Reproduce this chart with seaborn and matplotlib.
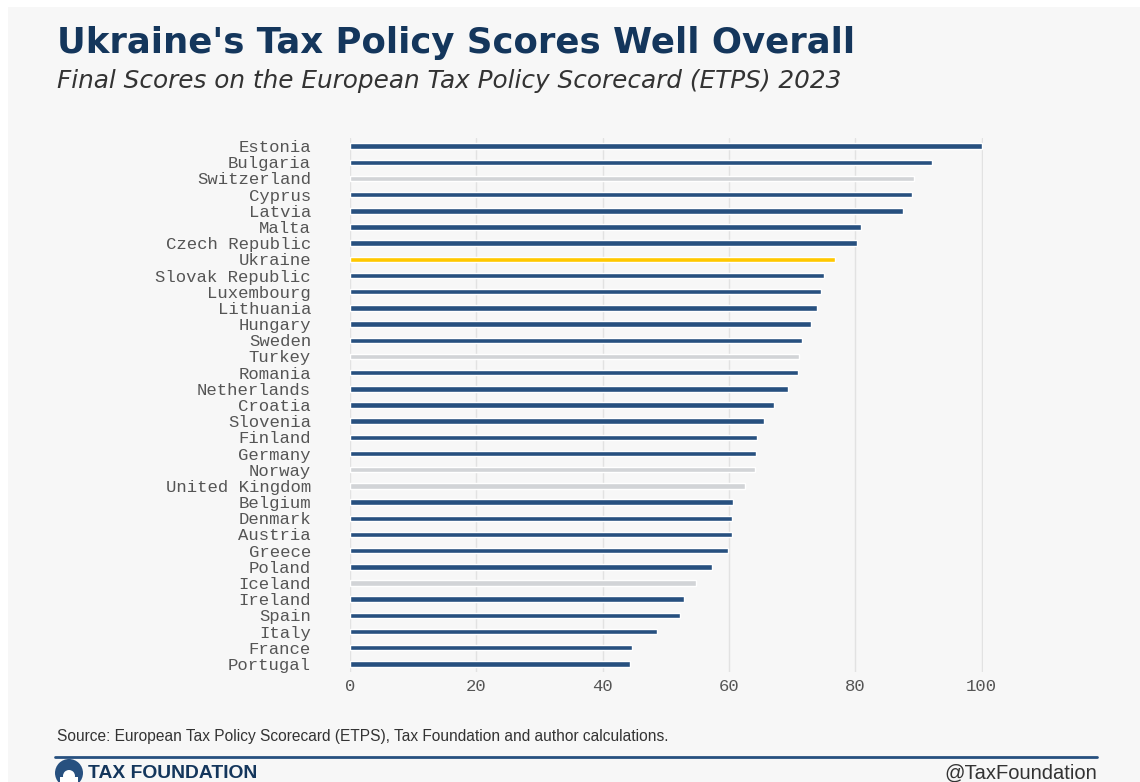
import matplotlib
matplotlib.use("Agg")
import matplotlib.pyplot as plt
import matplotlib.patches as mpatches
import seaborn as sns
import pandas as pd

countries = ["Estonia", "Bulgaria", "Switzerland", "Cyprus", "Latvia", "Malta",
             "Czech Republic", "Ukraine", "Slovak Republic", "Luxembourg", "Lithuania",
             "Hungary", "Sweden", "Turkey", "Romania", "Netherlands", "Croatia",
             "Slovenia", "Finland", "Germany", "Norway", "United Kingdom", "Belgium",
             "Denmark", "Austria", "Greece", "Poland", "Iceland", "Ireland", "Spain",
             "Italy", "France", "Portugal"]
scores = [100.0, 92.1, 89.2, 88.9, 87.6, 80.9, 80.2, 76.8, 75.0, 74.6, 73.9,
          73.0, 71.6, 71.1, 70.9, 69.4, 67.1, 65.5, 64.5, 64.3, 64.1, 62.5, 60.7,
          60.5, 60.5, 59.8, 57.3, 54.8, 52.8, 52.3, 48.6, 44.6, 44.3]
groups = ["EU", "EU", "Non-EU", "EU", "EU", "EU", "EU", "Ukraine", "EU", "EU", "EU",
          "EU", "EU", "Non-EU", "EU", "EU", "EU", "EU", "EU", "EU", "Non-EU", "Non-EU",
          "EU", "EU", "EU", "EU", "EU", "Non-EU", "EU", "EU", "EU", "EU", "EU"]
xticks = [0, 20, 40, 60, 80, 100]

NAVY = "#27507f"
GRAY_BAR = "#d2d4d7"
YELLOW = "#ffc800"
TITLE = "#14365c"
BG = "#f7f7f7"
palette = {"EU": NAVY, "Non-EU": GRAY_BAR, "Ukraine": YELLOW}

df = pd.DataFrame({"country": countries, "score": scores, "group": groups})

sns.set_theme(style="white")
plt.rcParams["font.family"] = ["Liberation Sans", "DejaVu Sans"]

W, H = 1140, 782
fig = plt.figure(figsize=(W / 100, H / 100), dpi=100, facecolor="white")

# gray panel
fig.patches.append(mpatches.Rectangle((8 / W, 0), 1 - 8 / W, 1 - 7 / H,
                                      transform=fig.transFigure, facecolor=BG,
                                      edgecolor="none", zorder=-10))

left, right = 350, 983
top, bottom = 138, 672
ax = fig.add_axes([left / W, 1 - bottom / H, (right - left) / W, (bottom - top) / H])
ax.set_facecolor(BG)
ax.patch.set_alpha(0)

sns.barplot(data=df, y="country", x="score", hue="group", palette=palette,
            order=countries, orient="h", width=0.34, dodge=False, legend=False,
            saturation=1, ax=ax, zorder=3)

ax.set_xlim(0, 100.2)
ax.set_ylim(len(countries) - 0.5, -0.5)
ax.set_xticks(xticks)
ax.set_xticklabels([str(t) for t in xticks])
ax.grid(axis="x", color="#e2e2e2", linewidth=1, zorder=0)
ax.grid(axis="y", visible=False)
for s in ax.spines.values():
    s.set_visible(False)
ax.set_xlabel("")
ax.set_ylabel("")
ax.tick_params(axis="both", length=0)
ax.tick_params(axis="y", pad=28)
ax.tick_params(axis="x", pad=5)
for lbl in ax.get_yticklabels():
    lbl.set_fontfamily("Liberation Mono")
    lbl.set_fontsize(12.4)
    lbl.set_color("#555555")
for lbl in ax.get_xticklabels():
    lbl.set_fontfamily("Liberation Mono")
    lbl.set_fontsize(12.4)
    lbl.set_color("#555555")

# titles
fig.text(57 / W, 1 - 43 / H, "Ukraine's Tax Policy Scores Well Overall",
         fontsize=25.6, fontweight="bold", color=TITLE, va="center", ha="left",
         family="DejaVu Sans")
fig.text(57 / W, 1 - 81 / H,
         "Final Scores on the European Tax Policy Scorecard (ETPS) 2023",
         fontsize=17.8, style="italic", color="#333333", va="center", ha="left",
         family="DejaVu Sans")

# source
fig.text(57 / W, 1 - 737 / H,
         "Source: European Tax Policy Scorecard (ETPS), Tax Foundation and author calculations.",
         fontsize=11.2, color="#333333", va="center", ha="left")

# footer line
fig.lines.append(plt.Line2D([55 / W, 1097 / W], [1 - 757 / H, 1 - 757 / H],
                            transform=fig.transFigure, color=NAVY, linewidth=2))

# logo
lx, ly = 69, 773
fig.patches.append(mpatches.Ellipse((lx / W, 1 - ly / H), 28 / W, 28 / H,
                                    transform=fig.transFigure, facecolor=NAVY,
                                    edgecolor="none"))
fig.patches.append(mpatches.Ellipse((lx / W, 1 - (ly + 3) / H), 12 / W, 12 / H,
                                    transform=fig.transFigure, facecolor="white",
                                    edgecolor="none"))
fig.patches.append(mpatches.Rectangle(((lx - 9) / W, 1 - (ly + 12) / H), 18 / W, 8 / H,
                                      transform=fig.transFigure, facecolor="white",
                                      edgecolor="none"))
fig.text(88 / W, 1 - 773 / H, "TAX FOUNDATION", fontsize=13.9, fontweight="bold",
         color=TITLE, va="center", ha="left")
fig.text(1097 / W, 1 - 773 / H, "@TaxFoundation", fontsize=14.5, color="#333333",
         va="center", ha="right")

fig.savefig("out.png", dpi=100, facecolor="white")
